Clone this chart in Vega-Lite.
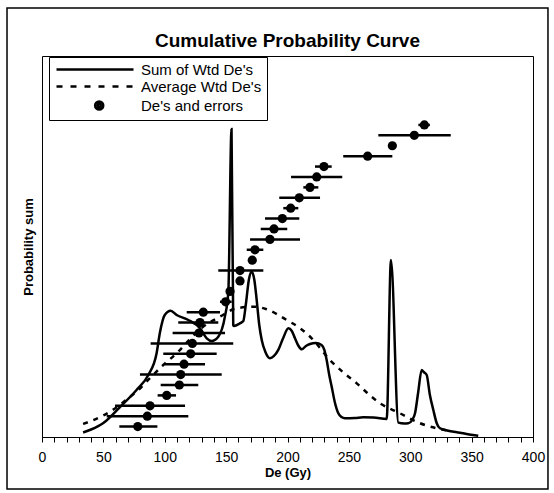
{
  "$schema": "https://vega.github.io/schema/vega-lite/v6.json",
  "autosize": {"type": "none"},
  "padding": {"left": 42, "top": 56, "right": 21, "bottom": 56},
  "width": 491,
  "height": 381,
  "background": "white",
  "config": {
    "font": "Liberation Sans",
    "view": {"stroke": "black", "strokeWidth": 1},
    "axis": {"grid": false, "labelColor": "black", "titleColor": "black", "domainColor": "black", "tickColor": "black"}
  },
  "title": {"text": "Cumulative Probability Curve", "font": "Liberation Sans", "fontSize": 19, "fontWeight": "bold", "color": "black", "anchor": "middle", "baseline": "bottom", "offset": -63},
  "datasets": {
    "sum": [
      {"De": 33.5, "prob": 0.43}, {"De": 40, "prob": 0.72}, {"De": 50, "prob": 1.35}, {"De": 63.5, "prob": 2.88},
      {"De": 77, "prob": 4.52}, {"De": 86.6, "prob": 5.96}, {"De": 93.4, "prob": 8.08}, {"De": 96, "prob": 10.0},
      {"De": 100, "prob": 11.73}, {"De": 104.8, "prob": 12.14}, {"De": 109.7, "prob": 11.73}, {"De": 119.2, "prob": 11.25},
      {"De": 128.7, "prob": 10.45}, {"De": 134.2, "prob": 9.49}, {"De": 138.2, "prob": 9.23}, {"De": 143.6, "prob": 9.64},
      {"De": 149, "prob": 11.57}, {"De": 151.8, "prob": 13.94}, {"De": 154.4, "prob": 29.62}, {"De": 155.8, "prob": 10.77},
      {"De": 156.4, "prob": 10.67}, {"De": 161, "prob": 10.91}, {"De": 164, "prob": 11.15}, {"De": 166, "prob": 12.69},
      {"De": 168.5, "prob": 15.1}, {"De": 170.8, "prob": 15.89}, {"De": 173, "prob": 15.1}, {"De": 174.9, "prob": 13.17},
      {"De": 177, "prob": 10.77}, {"De": 179, "prob": 9.33}, {"De": 182, "prob": 8.17}, {"De": 185.7, "prob": 7.57},
      {"De": 189, "prob": 7.79}, {"De": 192.5, "prob": 8.37}, {"De": 196.5, "prob": 9.52}, {"De": 200.7, "prob": 10.45},
      {"De": 203.5, "prob": 10.19}, {"De": 206.1, "prob": 9.49}, {"De": 209, "prob": 8.75}, {"De": 211.6, "prob": 8.43},
      {"De": 215, "prob": 8.75}, {"De": 218.3, "prob": 8.94}, {"De": 223, "prob": 9.04}, {"De": 227.8, "prob": 8.85},
      {"De": 230, "prob": 8.37}, {"De": 231.9, "prob": 7.4}, {"De": 234, "prob": 5.96}, {"De": 236, "prob": 4.84},
      {"De": 238.5, "prob": 3.37}, {"De": 241.4, "prob": 2.28}, {"De": 244, "prob": 1.92}, {"De": 246.8, "prob": 1.8},
      {"De": 255, "prob": 1.83}, {"De": 261.8, "prob": 1.89}, {"De": 270, "prob": 1.88}, {"De": 280.8, "prob": 1.73},
      {"De": 284.3, "prob": 17.02}, {"De": 290.3, "prob": 1.38}, {"De": 295, "prob": 1.3}, {"De": 298.4, "prob": 1.32},
      {"De": 301.5, "prob": 1.63}, {"De": 303.9, "prob": 2.28}, {"De": 306.5, "prob": 4.33}, {"De": 309.3, "prob": 6.44},
      {"De": 311, "prob": 6.25}, {"De": 313.4, "prob": 5.96}, {"De": 316, "prob": 4.04}, {"De": 318.8, "prob": 2.6},
      {"De": 321.5, "prob": 1.35}, {"De": 324.2, "prob": 0.84}, {"De": 330, "prob": 0.63}, {"De": 340.5, "prob": 0.41},
      {"De": 348, "prob": 0.25}, {"De": 355.4, "prob": 0.13}
    ],
    "avg": [
      {"De": 33.5, "prob": 1.25}, {"De": 40, "prob": 1.54}, {"De": 50, "prob": 2.07}, {"De": 60, "prob": 2.79},
      {"De": 70, "prob": 3.7}, {"De": 78.5, "prob": 4.52}, {"De": 88, "prob": 5.67}, {"De": 98.8, "prob": 6.92},
      {"De": 111, "prob": 8.2}, {"De": 120, "prob": 9.33}, {"De": 130, "prob": 10.48}, {"De": 145, "prob": 11.57},
      {"De": 158.6, "prob": 12.38}, {"De": 173.5, "prob": 12.53}, {"De": 183, "prob": 12.28}, {"De": 199.3, "prob": 11.25},
      {"De": 210, "prob": 10.48}, {"De": 219.7, "prob": 9.49}, {"De": 234.6, "prob": 7.4}, {"De": 245, "prob": 6.25},
      {"De": 256.4, "prob": 5.16}, {"De": 265, "prob": 4.23}, {"De": 275.4, "prob": 3.24}, {"De": 291.6, "prob": 2.28},
      {"De": 308, "prob": 1.32}, {"De": 321.5, "prob": 0.84}, {"De": 330, "prob": 0.63}
    ],
    "pts": [
      {"rank": 1, "De": 78, "lo": 63, "hi": 94},
      {"rank": 2, "De": 85.8, "lo": 52.7, "hi": 119.2},
      {"rank": 3, "De": 88, "lo": 59.5, "hi": 116.5},
      {"rank": 4, "De": 101.6, "lo": 94.2, "hi": 109.2},
      {"rank": 5, "De": 111.9, "lo": 96.7, "hi": 127.3},
      {"rank": 6, "De": 113, "lo": 79.8, "hi": 146.4},
      {"rank": 7, "De": 115.7, "lo": 100.2, "hi": 132.8},
      {"rank": 8, "De": 121.1, "lo": 98.8, "hi": 142.3},
      {"rank": 9, "De": 122.5, "lo": 88.5, "hi": 155.8},
      {"rank": 10, "De": 127.9, "lo": 106.4, "hi": 149.1},
      {"rank": 11, "De": 128.7, "lo": 111, "hi": 143.6},
      {"rank": 12, "De": 131.4, "lo": 117.9, "hi": 145},
      {"rank": 13, "De": 149.6, "lo": 145, "hi": 154.5},
      {"rank": 14, "De": 153.2, "lo": 150.5, "hi": 156},
      {"rank": 15, "De": 161.3, "lo": 158, "hi": 164.5},
      {"rank": 16, "De": 161.3, "lo": 143.6, "hi": 180.3},
      {"rank": 17, "De": 171.3, "lo": 169, "hi": 173.5},
      {"rank": 18, "De": 173.5, "lo": 166.8, "hi": 180.3},
      {"rank": 19, "De": 185.7, "lo": 169.5, "hi": 210.2},
      {"rank": 20, "De": 189, "lo": 178.2, "hi": 199.8},
      {"rank": 21, "De": 195.8, "lo": 181.7, "hi": 209.6},
      {"rank": 22, "De": 202.6, "lo": 196.6, "hi": 208.8},
      {"rank": 23, "De": 209.6, "lo": 193.3, "hi": 226.5},
      {"rank": 24, "De": 218.3, "lo": 212.9, "hi": 225.1},
      {"rank": 25, "De": 223.8, "lo": 202.9, "hi": 244.6},
      {"rank": 26, "De": 229.7, "lo": 222.4, "hi": 236},
      {"rank": 27, "De": 265.3, "lo": 245.4, "hi": 285.4},
      {"rank": 28, "De": 285.4, "lo": 283, "hi": 288},
      {"rank": 29, "De": 303.3, "lo": 274, "hi": 333},
      {"rank": 30, "De": 311.5, "lo": 306.6, "hi": 316}
    ]
  },
  "encoding": {
    "x": {"type": "quantitative", "scale": {"domain": [0, 400], "nice": false, "zero": false},
      "axis": {"title": "De (Gy)", "values": [0,10,20,30,40,50,60,70,80,90,100,110,120,130,140,150,160,170,180,190,200,210,220,230,240,250,260,270,280,290,300,310,320,330,340,350,360,370,380,390,400],
        "labelExpr": "datum.value % 50 === 0 ? datum.label : ''", "labelFontSize": 14, "labelPadding": 8, "tickSize": 5, "tickWidth": 1, "domainWidth": 1,
        "titleFontSize": 13, "titleFontWeight": "bold", "titlePadding": 2, "labelFlush": false, "labelOverlap": false}},
    "y": {"type": "quantitative", "scale": {"domain": [0, 36.63], "nice": false, "zero": false},
      "axis": {"title": "Probability sum", "labels": false, "ticks": false, "domain": false, "titleFontSize": 13, "titleFontWeight": "bold", "titlePadding": 7}}
  },
  "layer": [
    {
      "data": {"name": "sum"},
      "mark": {"type": "line", "color": "black", "strokeWidth": 2.5, "interpolate": "monotone"},
      "encoding": {"x": {"field": "De"}, "y": {"field": "prob"}}
    },
    {
      "data": {"name": "avg"},
      "mark": {"type": "line", "color": "black", "strokeWidth": 2.5, "strokeDash": [5, 6], "interpolate": "monotone"},
      "encoding": {"x": {"field": "De"}, "y": {"field": "prob"}}
    },
    {
      "data": {"name": "pts"},
      "mark": {"type": "rule", "color": "black", "strokeWidth": 2.5},
      "encoding": {"x": {"field": "lo"}, "x2": {"field": "hi"}, "y": {"field": "rank"}}
    },
    {
      "data": {"name": "pts"},
      "mark": {"type": "circle", "color": "black", "opacity": 1, "size": 85},
      "encoding": {"x": {"field": "De"}, "y": {"field": "rank"}}
    },
    {
      "data": {"values": [{"series": "Sum of Wtd De's"}, {"series": "Average Wtd De's"}, {"series": "De's and errors"}]},
      "transform": [{"filter": "false"}],
      "mark": {"type": "point", "filled": false, "color": "black", "opacity": 1, "strokeWidth": 2.5},
      "encoding": {
        "x": {"datum": 0},
        "y": {"datum": 0},
        "shape": {"field": "series", "type": "nominal",
          "scale": {"domain": ["Sum of Wtd De's", "Average Wtd De's", "De's and errors"],
            "range": ["M-1,0L14.4,0", "M-1,0L0.2,0M1.8,0L3,0M4.6,0L5.8,0M7.4,0L8.6,0M10.2,0L11.4,0M13,0L14.2,0", "M6.73,0A0.81,0.81,0,1,0,8.35,0A0.81,0.81,0,1,0,6.73,0ZM7.24,0A0.3,0.3,0,1,0,7.84,0A0.3,0.3,0,1,0,7.24,0Z"]},
          "legend": {"title": null, "orient": "none", "legendX": 7, "legendY": 1, "symbolSize": 100, "labelFontSize": 15, "labelColor": "black",
            "labelOffset": 72, "rowPadding": 1, "padding": 5, "strokeColor": "black", "fillColor": "white",
            "symbolStrokeColor": "black", "symbolStrokeWidth": 2.5, "symbolOpacity": 1,
            "encode": {"symbols": {"update": {"stroke": {"value": "black"}, "strokeWidth": {"value": 2.5}, "opacity": {"value": 1}}}}}}
      }
    },
    {
      "data": {"values": [{"frame": 1}]},
      "mark": {"type": "rect", "fill": null, "stroke": "black", "strokeWidth": 1.5, "clip": false},
      "encoding": {"x": {"datum": -28.5}, "x2": {"datum": 412.2}, "y": {"datum": 41.25}, "y2": {"datum": -5.0}}
    }
  ]
}
